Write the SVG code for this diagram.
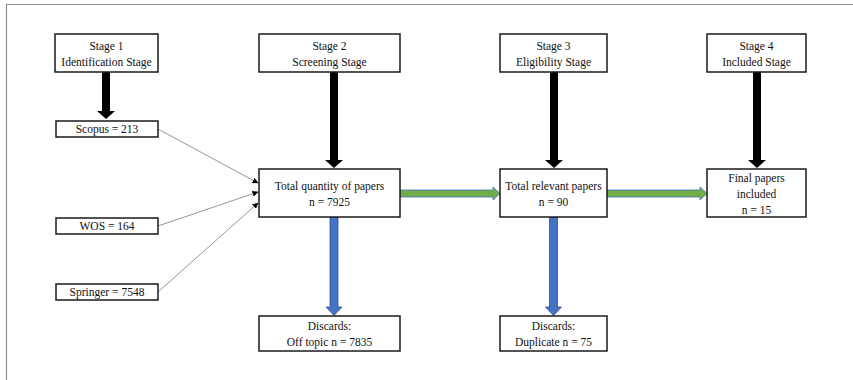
<svg xmlns="http://www.w3.org/2000/svg" width="853" height="380" viewBox="0 0 853 380">
<style>
.box{fill:#fff;stroke:#1a1a1a;stroke-width:1.5}
.t{font-family:"Liberation Serif","Times New Roman",serif;font-size:11.5px;fill:#111;text-anchor:middle}
.frame{stroke:#8c8c8c;stroke-width:1.2;fill:none}
.thin{stroke:#7a7a7a;stroke-width:0.8;fill:none;marker-end:url(#ah)}
.blk{fill:#000}
.blu{fill:#4472C4;stroke:#2F528F;stroke-width:0.8}
.grn{fill:#70AD47;stroke:#4472C4;stroke-width:0.8}
</style>
<defs>
<marker id="ah" markerWidth="6" markerHeight="6" refX="5.5" refY="3" orient="auto" markerUnits="userSpaceOnUse">
<path d="M0,0 L6,3 L0,6 Z" fill="#000"/>
</marker>
</defs>
<rect width="853" height="380" fill="#fff"/>
<path class="frame" d="M6.5,380 V4.5 H853"/>
<g id="connectors">
<line class="thin" x1="158" y1="129" x2="258" y2="183"/>
<line class="thin" x1="158" y1="226" x2="258" y2="192"/>
<line class="thin" x1="158" y1="292" x2="258" y2="203"/>
<polygon class="blk" points="102,72 110,72 110,111 115,111 106,119 97,111 102,111"/>
<polygon class="blk" points="330,72 338,72 338,160 343,160 334,168 325,160 330,160"/>
<polygon class="blk" points="550,72 558,72 558,160 563,160 554,168 545,160 550,160"/>
<polygon class="blk" points="753,72 761,72 761,160 766,160 757,168 748,160 753,160"/>
<polygon class="blu" points="330,217 338,217 338,307 342,307 334,315.5 326,307 330,307"/>
<polygon class="blu" points="549.5,217 557.5,217 557.5,307 561.5,307 553.5,315.5 545.5,307 549.5,307"/>
<polygon class="grn" points="400,190 493,190 493,187 500,193.5 493,200 493,197 400,197"/>
<polygon class="grn" points="607,190 700,190 700,187 707,193.5 700,200 700,197 607,197"/>
</g>
<g id="stage1"><rect class="box" x="55" y="34" width="103" height="38"/><text class="t" x="106.5" y="50">Stage 1</text><text class="t" x="106.5" y="66">Identification Stage</text></g>
<g id="stage2"><rect class="box" x="259" y="34" width="141" height="38"/><text class="t" x="329.5" y="50">Stage 2</text><text class="t" x="329.5" y="66">Screening Stage</text></g>
<g id="stage3"><rect class="box" x="500" y="34" width="107" height="38"/><text class="t" x="553.5" y="50">Stage 3</text><text class="t" x="553.5" y="66">Eligibility Stage</text></g>
<g id="stage4"><rect class="box" x="707" y="34" width="99" height="38"/><text class="t" x="756.5" y="50">Stage 4</text><text class="t" x="756.5" y="66">Included Stage</text></g>
<g id="scopus"><rect class="box" x="56" y="121" width="102" height="16"/><text class="t" x="107" y="133">Scopus = 213</text></g>
<g id="wos"><rect class="box" x="56" y="218" width="102" height="16"/><text class="t" x="107" y="230">WOS = 164</text></g>
<g id="springer"><rect class="box" x="56" y="284" width="102" height="16"/><text class="t" x="107" y="296">Springer = 7548</text></g>
<g id="total"><rect class="box" x="259" y="169" width="141" height="48"/><text class="t" x="329.5" y="190">Total quantity of papers</text><text class="t" x="329.5" y="206">n = 7925</text></g>
<g id="relevant"><rect class="box" x="500" y="169" width="107" height="48"/><text class="t" x="553.5" y="190">Total relevant papers</text><text class="t" x="553.5" y="206">n = 90</text></g>
<g id="final"><rect class="box" x="707" y="169" width="99" height="48"/><text class="t" x="756.5" y="182">Final papers</text><text class="t" x="756.5" y="198">included</text><text class="t" x="756.5" y="214">n = 15</text></g>
<g id="discard1"><rect class="box" x="259" y="316" width="141" height="35"/><text class="t" x="329.5" y="330">Discards:</text><text class="t" x="329.5" y="346">Off topic n = 7835</text></g>
<g id="discard2"><rect class="box" x="500" y="316" width="107" height="35"/><text class="t" x="553.5" y="330">Discards:</text><text class="t" x="553.5" y="346">Duplicate n = 75</text></g>
</svg>
